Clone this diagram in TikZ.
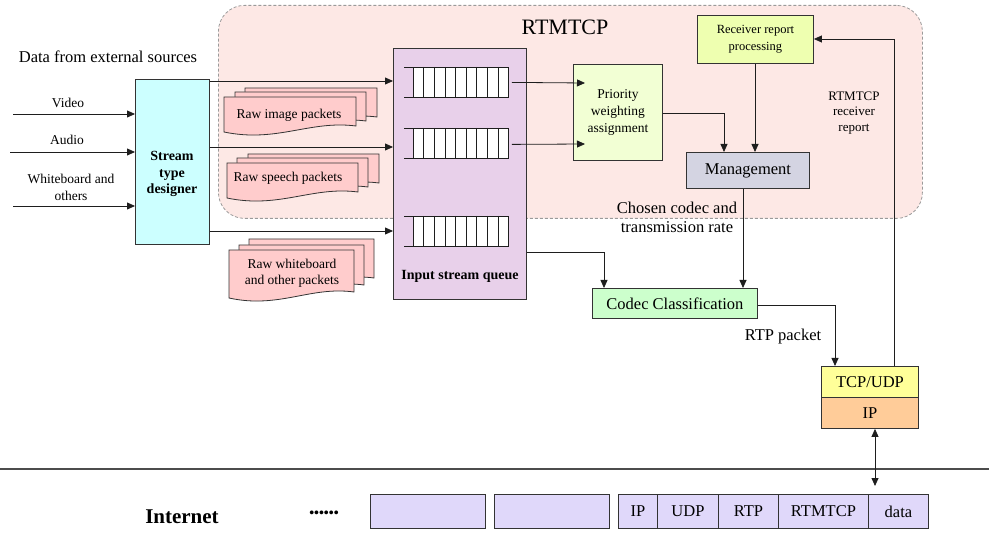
\documentclass[tikz,border=0pt]{standalone}
\usepackage{fontspec}
\setmainfont{Liberation Serif}
\usetikzlibrary{arrows.meta,calc}
\definecolor{regionfill}{HTML}{FDE8E5}
\definecolor{dashc}{HTML}{9A9A9A}
\definecolor{linec}{HTML}{1E1E1E}
\definecolor{boxline}{HTML}{333333}
\definecolor{cyanf}{HTML}{CCFFFF}
\definecolor{queuef}{HTML}{E8D0EA}
\definecolor{docf}{HTML}{FFCCCC}
\definecolor{prif}{HTML}{F2FFD4}
\definecolor{recvf}{HTML}{EEFFB0}
\definecolor{mgmtf}{HTML}{D4D4E2}
\definecolor{codecf}{HTML}{CCFFCC}
\definecolor{tcpf}{HTML}{FFFF99}
\definecolor{ipf}{HTML}{FFCC99}
\definecolor{pktf}{HTML}{E0D8FA}
\newcommand\fs[2]{\fontsize{#1}{#2}\selectfont}
\tikzset{
  box/.style={draw=boxline, line width=0.9pt, inner sep=0pt, anchor=north west, align=center},
  arr/.style={draw=linec, line width=0.8pt, -{Triangle[length=8pt,width=7pt]}},
  dblarr/.style={draw=linec, line width=0.8pt, {Triangle[length=8pt,width=7pt]}-{Triangle[length=8pt,width=7pt]}},
  ln/.style={draw=linec, line width=0.8pt},
  lbl/.style={inner sep=0pt, align=center, text=black},
  docst/.style={draw=boxline, line width=0.8pt, fill=docf},
  pkt/.style={box, fill=pktf, minimum height=34pt, font=\fs{16.5}{18}},
}
\newcommand\rawdoc[4]{%
  \pgfmathsetmacro\dxr{#1+#3}\pgfmathsetmacro\dyb{#2+#4}\pgfmathsetmacro\dyr{#2+#4-6}%
  \pgfmathsetmacro\cxa{#1+0.65*#3}\pgfmathsetmacro\cya{#2+#4-12}%
  \pgfmathsetmacro\cxb{#1+0.4*#3}\pgfmathsetmacro\cyb{#2+#4+11}%
  \draw[docst] (#1,#2) -- (\dxr,#2) -- (\dxr,\dyr) .. controls (\cxa,\cya) and (\cxb,\cyb) .. (#1,\dyb) -- cycle;}
\newcommand\queuebar[3]{%
  \node[draw=linec, fill=white, line width=0.8pt, inner sep=0pt, anchor=north west,
        minimum width=95pt, minimum height=#3pt] (#1) at (413,#2) {};
  \draw[ln] (404,#2) -- (#1.north west);
  \draw[ln] (#1.south west) -- ++(-9,0);
  \foreach \k in {1,...,8}
    \draw[ln] ($(#1.north west)!\k/9!(#1.north east)$) -- ($(#1.south west)!\k/9!(#1.south east)$);}
\begin{document}
\begin{tikzpicture}[x=1pt,y=-1pt]
\useasboundingbox (0,0) rectangle (989,540);
% RTMTCP region
\node[draw=dashc, dash pattern=on 3pt off 2pt, fill=regionfill, rounded corners=26pt,
      minimum width=704pt, minimum height=213pt, anchor=north west, line width=0.8pt, inner sep=0pt] (region) at (218,5) {};
\node[lbl, font=\fs{22}{24}] (title) at (565,27) {RTMTCP};

% inputs
\node[lbl, font=\fs{16.5}{18}] (datasrc) at (108,57) {Data from external sources};
\node[box, fill=cyanf, minimum width=74pt, minimum height=165pt] (designer) at (135,79) {};
\node[lbl, font=\bfseries\fs{14}{16.5}] (designertxt) at (172,174) {Stream\\type\\designer};
\coordinate (inV) at (13,114);
\coordinate (inA) at (10,152);
\coordinate (inW) at (13,206);
\draw[arr] (inV) -- (designer.west |- inV);
\draw[arr] (inA) -- (designer.west |- inA);
\draw[arr] (inW) -- (designer.west |- inW);
\node[lbl, font=\fs{13.5}{16}] (lv) at (68,103) {Video};
\node[lbl, font=\fs{13.5}{16}] (la) at (67,140) {Audio};
\node[lbl, font=\fs{13.5}{17}] (lw) at (71,187) {Whiteboard and\\others};

% queue box
\node[box, fill=queuef, minimum width=133pt, minimum height=251pt] (qbox) at (393,48) {};
\node[lbl, font=\bfseries\fs{14}{16}] (qtxt) at (460,276) {Input stream queue};
\queuebar{q1}{67}{30}
\queuebar{q2}{128}{30}
\queuebar{q3}{216}{30}
\coordinate (ya) at (0,81);
\coordinate (yb) at (0,147);
\coordinate (yc) at (0,231);
\draw[arr] (designer.east |- ya) -- (qbox.west |- ya);
\draw[arr] (designer.east |- yb) -- (qbox.west |- yb);
\draw[arr] (designer.east |- yc) -- (qbox.west |- yc);

% raw docs
\rawdoc{245}{88}{132}{35}
\rawdoc{235}{92}{131}{35}
\rawdoc{224}{97}{132}{35}
\node[lbl, font=\fs{13.5}{16}] (rimg) at (289,115) {Raw image packets};
\rawdoc{248}{154}{131}{35}
\rawdoc{237}{158}{131}{35}
\rawdoc{227}{163}{131}{35}
\node[lbl, font=\fs{13.5}{16}] (rsp) at (288,178) {Raw speech packets};
\rawdoc{249}{239}{125}{45}
\rawdoc{239}{245}{125}{46}
\rawdoc{229}{250}{125}{48}
\node[lbl, font=\fs{13.5}{16}] (rwb) at (292,273) {Raw whiteboard\\and other packets};

% priority
\node[box, fill=prif, minimum width=89pt, minimum height=96pt, font=\fs{13.5}{17}] (prio) at (573,64) {Priority\\weighting\\assignment};
\coordinate (p1) at (585,83);
\coordinate (p2) at (585,144);
\draw[arr] ($(q1.east)+(3,0)$) -- (p1);
\draw[arr] ($(q2.east)+(3,1)$) -- (p2);

% receiver report
\node[box, fill=recvf, minimum width=116pt, minimum height=48pt, font=\fs{12.5}{17}] (recv) at (697,15) {Receiver report\\processing};
% management
\node[box, fill=mgmtf, minimum width=123pt, minimum height=36pt, font=\fs{16.5}{18}] (mgmt) at (686,152) {Management};
\coordinate (mp) at (724,113);
\draw[arr] (prio.east |- mp) -- (mp) -- (mp |- mgmt.north);
\coordinate (mr) at (755,0);
\draw[arr] (recv.south -| mr) -- (mgmt.north -| mr);

% codec
\node[box, fill=codecf, minimum width=165pt, minimum height=30pt, font=\fs{16.5}{18}] (codec) at (592,288) {Codec Classification};
\coordinate (cm) at (743,0);
\draw[arr] (mgmt.south -| cm) -- (codec.north -| cm);
\node[lbl, font=\fs{16.5}{19}] (chosen) at (677,217) {Chosen codec and\\transmission rate};
\coordinate (qc) at (604,252);
\draw[arr] (qbox.east |- qc) -- (qc) -- (codec.north -| qc);

% TCP/UDP, IP
\node[box, fill=tcpf, minimum width=97pt, minimum height=31pt, font=\fs{16.5}{18}] (tcp) at (821,366) {TCP/UDP};
\node[box, fill=ipf, minimum width=97pt, minimum height=31pt, font=\fs{16.5}{18}] (ip) at (821,397) {IP};
\coordinate (ct) at (835,305);
\draw[arr] (codec.east |- ct) -- (ct) -- (tcp.north -| ct);
\node[lbl, font=\fs{16.5}{18}] (rtp) at (783,337) {RTP packet};
\coordinate (rr) at (894,39);
\draw[arr] (tcp.north -| rr) -- (rr) -- (recv.east |- rr);
\node[lbl, font=\fs{13}{15.5}] (rrtxt) at (854,113) {RTMTCP\\receiver\\report};

% internet line
\coordinate (sepL) at (0,469);
\coordinate (sepR) at (989,469);
\draw[draw=black!70, line width=1.1pt] (sepL) -- (sepR);
\coordinate (da) at (875,486);
\draw[dblarr] (ip.south -| da) -- (da);

% packet row
\node[pkt, minimum width=115pt] (pa) at (370,494) {};
\node[pkt, minimum width=115pt] (pb) at (494,494) {};
\node[pkt, minimum width=39pt] (pip) at (618,494) {IP};
\node[pkt, minimum width=61pt] (pudp) at (657,494) {UDP};
\node[pkt, minimum width=60pt] (prtp) at (718,494) {RTP};
\node[pkt, minimum width=90pt] (prtm) at (778,494) {RTMTCP};
\node[pkt, minimum width=60pt] (pdata) at (868,494) {data};
\node[lbl, font=\bfseries\fs{21}{23}] (inet) at (182,517) {Internet};
\node[lbl, font=\bfseries\fs{14}{18}] (dots) at (324,514) {••••••};
\end{tikzpicture}
\end{document}
